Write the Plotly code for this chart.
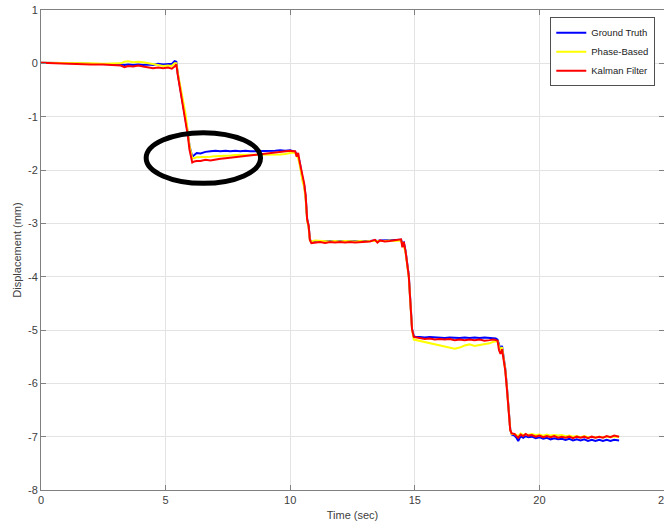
import plotly.graph_objects as go

# ---------------- data ----------------
tA = [0, 0.5, 1.0, 1.5, 2.0, 2.5, 3.0, 3.2, 3.35, 3.5, 3.7, 3.9, 4.1, 4.3, 4.5, 4.7, 4.9, 5.1, 5.25, 5.36]
gtA = [0.01, 0.01, 0.0, 0.0, -0.01, -0.01, -0.02, -0.02, -0.03, -0.02, -0.03, -0.02, -0.03, -0.02, -0.03, -0.01, -0.02, -0.02, -0.01, 0.04]
pbA = [0.01, 0.01, 0.0, 0.0, 0.0, -0.01, -0.01, 0.0, 0.03, 0.04, 0.02, 0.03, 0.02, 0.0, -0.02, -0.04, -0.05, -0.04, -0.05, 0.0]
kfA = [0.01, 0.0, 0.0, -0.01, -0.02, -0.02, -0.03, -0.04, -0.07, -0.05, -0.06, -0.04, -0.06, -0.08, -0.09, -0.08, -0.09, -0.08, -0.10, -0.06]

tB = [5.43, 5.49, 5.56, 5.63, 5.69, 5.8, 5.89, 5.96, 6.07, 6.15, 6.25]
gtB = [0.03, -0.2, -0.4, -0.58, -0.72, -1.0, -1.3, -1.55, -1.75, -1.72, -1.68]
pbB = [0.0, -0.18, -0.36, -0.55, -0.68, -0.95, -1.28, -1.55, -1.78, -1.78, -1.76]
kfB = [-0.02, -0.22, -0.42, -0.6, -0.74, -1.05, -1.35, -1.62, -1.86, -1.84, -1.83]

tC = [6.4, 6.6, 6.8, 7.0, 7.2, 7.4, 7.6, 7.8, 8.0, 8.2, 8.4, 8.6, 8.8, 9.0, 9.2, 9.4, 9.6, 9.8, 10.0, 10.1]
gtC = [-1.69, -1.66, -1.65, -1.64, -1.65, -1.64, -1.65, -1.64, -1.65, -1.64, -1.65, -1.65, -1.64, -1.65, -1.64, -1.64, -1.63, -1.64, -1.63, -1.64]
pbC = [-1.76, -1.75, -1.75, -1.74, -1.74, -1.73, -1.73, -1.72, -1.72, -1.72, -1.71, -1.71, -1.72, -1.72, -1.71, -1.72, -1.71, -1.70, -1.68, -1.67]
kfC = [-1.83, -1.81, -1.82, -1.80, -1.79, -1.78, -1.77, -1.76, -1.75, -1.74, -1.73, -1.72, -1.71, -1.70, -1.69, -1.68, -1.67, -1.66, -1.64, -1.65]

tD = [10.2, 10.26, 10.32, 10.38, 10.43, 10.5, 10.56, 10.62, 10.68, 10.74, 10.79, 10.85]
gtD = [-1.66, -1.70, -1.75, -1.85, -2.0, -2.18, -2.28, -2.5, -2.92, -3.05, -3.3, -3.35]
pbD = [-1.68, -1.72, -1.78, -1.90, -2.05, -2.22, -2.32, -2.55, -2.95, -3.08, -3.32, -3.34]
kfD = [-1.65, -1.75, -1.68, -1.85, -1.95, -2.15, -2.25, -2.48, -2.93, -3.05, -3.31, -3.37]

tE = [11.0, 11.2, 11.4, 11.6, 11.8, 12.0, 12.2, 12.4, 12.6, 12.8, 13.0, 13.2, 13.4, 13.5, 13.6, 13.8, 14.0, 14.2, 14.35]
gtE = [-3.33, -3.33, -3.34, -3.33, -3.34, -3.33, -3.34, -3.33, -3.33, -3.34, -3.33, -3.33, -3.32, -3.33, -3.32, -3.32, -3.32, -3.31, -3.31]
pbE = [-3.32, -3.33, -3.33, -3.34, -3.33, -3.34, -3.33, -3.34, -3.34, -3.33, -3.34, -3.33, -3.33, -3.34, -3.33, -3.33, -3.32, -3.33, -3.32]
kfE = [-3.36, -3.35, -3.37, -3.35, -3.36, -3.35, -3.36, -3.35, -3.36, -3.35, -3.35, -3.34, -3.31, -3.36, -3.32, -3.34, -3.33, -3.32, -3.31]

tF = [14.45, 14.5, 14.56, 14.63, 14.69, 14.76, 14.8, 14.85, 14.89, 14.96, 15.05]
gtF = [-3.31, -3.38, -3.36, -3.52, -3.74, -3.98, -4.3, -4.68, -4.98, -5.12, -5.13]
pbF = [-3.33, -3.40, -3.42, -3.55, -3.78, -4.02, -4.33, -4.70, -5.0, -5.18, -5.19]
kfF = [-3.30, -3.45, -3.35, -3.53, -3.75, -4.0, -4.31, -4.69, -4.99, -5.13, -5.14]

tG = [15.2, 15.4, 15.6, 15.8, 16.0, 16.2, 16.4, 16.6, 16.8, 17.0, 17.2, 17.4, 17.6, 17.8, 18.0, 18.15]
gtG = [-5.13, -5.14, -5.13, -5.14, -5.14, -5.15, -5.14, -5.15, -5.15, -5.14, -5.15, -5.14, -5.15, -5.14, -5.15, -5.15]
pbG = [-5.20, -5.22, -5.24, -5.27, -5.29, -5.31, -5.33, -5.35, -5.33, -5.29, -5.27, -5.30, -5.28, -5.26, -5.25, -5.22]
kfG = [-5.15, -5.17, -5.16, -5.18, -5.17, -5.18, -5.17, -5.19, -5.18, -5.19, -5.18, -5.19, -5.18, -5.20, -5.19, -5.18]

tH = [18.25, 18.32, 18.38, 18.44, 18.5, 18.56, 18.63, 18.69, 18.76, 18.83, 18.89]
gtH = [-5.16, -5.18, -5.28, -5.36, -5.30, -5.48, -5.72, -6.03, -6.48, -6.86, -6.96]
pbH = [-5.22, -5.21, -5.30, -5.38, -5.32, -5.50, -5.74, -6.05, -6.50, -6.87, -6.95]
kfH = [-5.19, -5.20, -5.38, -5.45, -5.36, -5.52, -5.76, -6.07, -6.52, -6.88, -6.94]

tI = [19.0, 19.08, 19.15, 19.25, 19.35, 19.45, 19.55, 19.7, 19.85, 20.0, 20.15, 20.3, 20.45, 20.6, 20.75,
      20.9, 21.05, 21.2, 21.35, 21.5, 21.65, 21.8, 21.95, 22.1, 22.25, 22.4, 22.55, 22.7, 22.85, 23.0, 23.2]
gtI = [-6.98, -7.02, -7.08, -6.99, -7.02, -6.99, -7.01, -7.00, -7.03, -7.01, -7.04, -7.02, -7.05, -7.03, -7.05,
       -7.04, -7.06, -7.04, -7.07, -7.05, -7.07, -7.05, -7.08, -7.06, -7.08, -7.06, -7.08, -7.06, -7.08, -7.06, -7.07]
pbI = [-6.95, -6.97, -6.99, -6.94, -6.97, -6.95, -6.97, -6.95, -6.97, -6.96, -6.98, -6.96, -6.98, -6.97, -6.98,
       -6.97, -6.99, -6.98, -7.00, -6.99, -7.01, -6.99, -7.01, -7.00, -7.01, -7.00, -7.01, -7.00, -7.00, -6.99, -7.00]
kfI = [-6.95, -6.99, -7.02, -6.96, -6.99, -6.95, -6.98, -6.97, -7.0, -6.98, -7.01, -6.99, -7.01, -6.99, -7.02,
       -7.0, -7.02, -7.0, -7.03, -7.0, -7.02, -7.0, -7.03, -7.0, -7.02, -7.0, -7.02, -6.99, -7.01, -6.98, -7.0]

time = tA + tB + tC + tD + tE + tF + tG + tH + tI
ground_truth = gtA + gtB + gtC + gtD + gtE + gtF + gtG + gtH + gtI
phase_based = pbA + pbB + pbC + pbD + pbE + pbF + pbG + pbH + pbI
kalman = kfA + kfB + kfC + kfD + kfE + kfF + kfG + kfH + kfI

series_names = ["Ground Truth", "Phase-Based", "Kalman Filter"]
series_colors = ["#0000ff", "#ffff00", "#ff0000"]

x_tickvals = [0, 5, 10, 15, 20, 25]
x_ticktext = ["0", "5", "10", "15", "20", "25"]
y_tickvals = [1, 0, -1, -2, -3, -4, -5, -6, -7, -8]
y_ticktext = ["1", "0", "-1", "-2", "-3", "-4", "-5", "-6", "-7", "-8"]

# highlighted region (ellipse)
ellipse_x = [4.22, 8.81]
ellipse_y = [-2.25, -1.30]

# ---------------- figure ----------------
FONT = "Liberation Sans, Arial"
fig = go.Figure()
for name, vals, col in zip(series_names, [ground_truth, phase_based, kalman], series_colors):
    fig.add_trace(go.Scatter(x=time, y=vals, mode="lines", name=name,
                             line=dict(color=col, width=2)))

fig.add_shape(type="circle", xref="x", yref="y",
              x0=ellipse_x[0], x1=ellipse_x[1], y0=ellipse_y[0], y1=ellipse_y[1],
              line=dict(color="black", width=5))

axis_common = dict(showgrid=True, gridcolor="#e3e3e3", gridwidth=1,
                   showline=True, linecolor="#808080", linewidth=1, mirror="ticks",
                   ticks="inside", ticklen=5, tickcolor="#808080", automargin=False,
                   ticklabeloverflow="allow",
                   zeroline=False, tickfont=dict(family=FONT, size=11, color="#404040"))

fig.update_xaxes(range=[0, 25], tickvals=x_tickvals, ticktext=x_ticktext,
                 title=dict(text="Time (sec)", font=dict(family=FONT, size=11, color="#404040"),
                            standoff=6),
                 **axis_common)
fig.update_yaxes(range=[-8, 1], tickvals=y_tickvals, ticktext=y_ticktext,
                 title=dict(text="Displacement (mm)", font=dict(family=FONT, size=11, color="#404040"),
                            standoff=4),
                 **axis_common)

fig.update_layout(
    width=664, height=525,
    margin=dict(l=41, r=0, t=10, b=35, autoexpand=False),
    paper_bgcolor="white", plot_bgcolor="white",
    font=dict(family=FONT, size=11, color="#404040"),
    legend=dict(x=0.986, y=0.985, xanchor="right", yanchor="top",
                bgcolor="white", bordercolor="#505050", borderwidth=1,
                font=dict(family=FONT, size=9.5, color="#222222"),
                itemwidth=30, tracegroupgap=0),
)

# remove the default page margin so the figure fills the 664x525 window exactly
fig.write_html("out.html",
               config={"displayModeBar": False},
               post_script="document.body.style.margin='0';document.body.style.overflow='hidden';")
